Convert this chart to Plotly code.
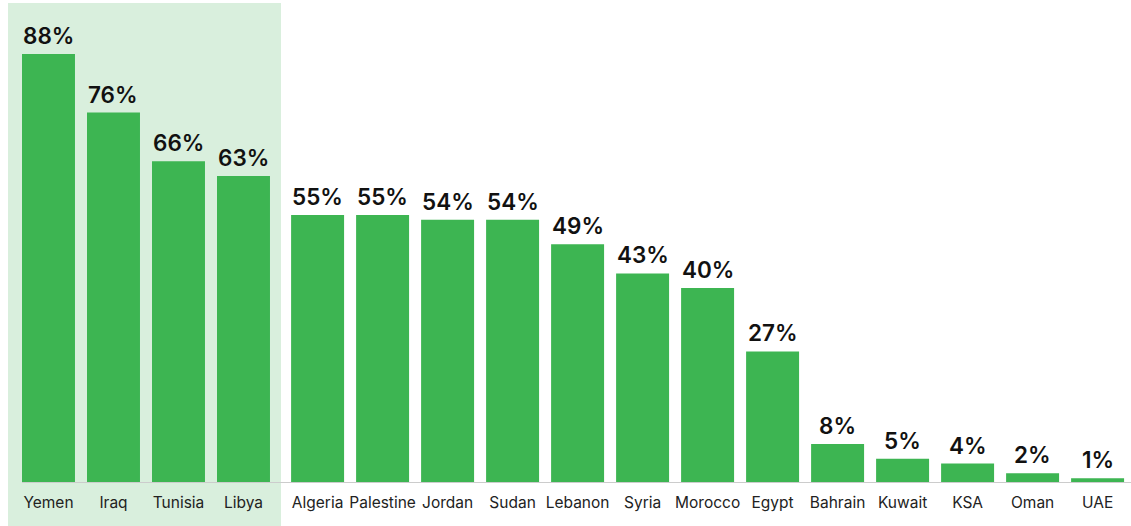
import plotly.graph_objects as go

countries = ["Yemen", "Iraq", "Tunisia", "Libya", "Algeria", "Palestine", "Jordan", "Sudan",
             "Lebanon", "Syria", "Morocco", "Egypt", "Bahrain", "Kuwait", "KSA", "Oman", "UAE"]
values = [88, 76, 66, 63, 55, 55, 54, 54, 49, 43, 40, 27, 8, 5, 4, 2, 1]
highlighted = 4  # first four countries are highlighted

GAP = 0.14
xs = [i + (GAP if i >= highlighted else 0) for i in range(len(countries))]

BAR = "#3db552"
fig = go.Figure()
fig.add_trace(go.Bar(x=xs, y=values, width=0.815, marker=dict(color=BAR, line=dict(width=0)),
                     hoverinfo="skip"))

for x, v in zip(xs, values):
    fig.add_annotation(x=x, y=v, text=f"{v}%", showarrow=False, yanchor="bottom", yshift=3,
                       font=dict(family="Inter", size=22.5, color="#111", weight=600))

x0 = -0.746
x1 = x0 + 1131 / 65
fig.add_shape(type="rect", xref="x", yref="paper", x0=x0 + 8 / 65, x1=x0 + 281 / 65,
              y0=-43 / 483, y1=480 / 483, fillcolor="#d9efdd", line=dict(width=0), layer="below")
fig.add_shape(type="line", xref="x", yref="y", x0=x0 + 22 / 65, x1=x1, y0=0, y1=0,
              line=dict(color="#cccccc", width=2), layer="above")

fig.update_layout(
    width=1131, height=526, margin=dict(l=0, r=0, t=0, b=43),
    paper_bgcolor="white", plot_bgcolor="rgba(0,0,0,0)", showlegend=False,
    xaxis=dict(range=[x0, x1], tickvals=xs, ticktext=countries, showgrid=False, zeroline=False,
               showline=False, ticks="", ticklabelstandoff=8,
               tickfont=dict(family="Inter", size=15.5, color="#222")),
    yaxis=dict(range=[0, 483 / 4.875], visible=False),
)
fig.write_html("out.html", config={"displayModeBar": False},
               post_script="document.body.style.margin='0';document.body.style.overflow='hidden';")
